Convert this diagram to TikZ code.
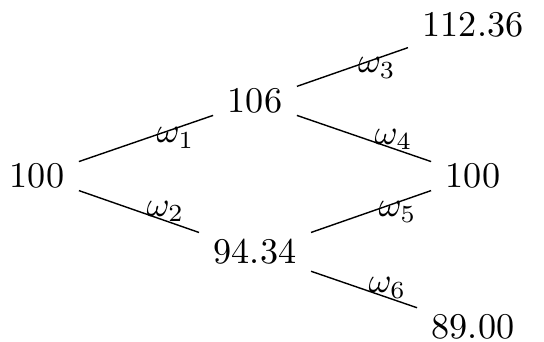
\documentclass[tikz,border=0pt]{standalone}
\usepackage{amsmath,amssymb}
\usepackage{tikz}

\begin{document}
\begin{tikzpicture}[every node/.style={font=\fontsize{10.3}{12}\selectfont},val/.style={inner sep=4pt},lu/.style={pos=.72,yshift=-.95mm},ld/.style={pos=.72,yshift=.95mm}]
\useasboundingbox (0,0) rectangle (5.44,3.42);
\node[val] (r) at (.37,1.66) {100};
\node[val] (u) at (2.55,2.41) {106};
\node[val] (d) at (2.55,.90) {94.34};
\node[val] (uu) at (4.73,3.17) {112.36};
\node[val] (ud) at (4.73,1.66) {100};
\node[val] (dd) at (4.73,.15) {89.00};
\draw (r)--node[lu] (w1) {$\omega_1$}(u);
\draw (r)--node[ld] (w2) {$\omega_2$}(d);
\draw (u)--node[lu] (w3) {$\omega_3$}(uu);
\draw (u)--node[ld] (w4) {$\omega_4$}(ud);
\draw (d)--node[lu] (w5) {$\omega_5$}(ud);
\draw (d)--node[ld] (w6) {$\omega_6$}(dd);
\end{tikzpicture}
\end{document}
